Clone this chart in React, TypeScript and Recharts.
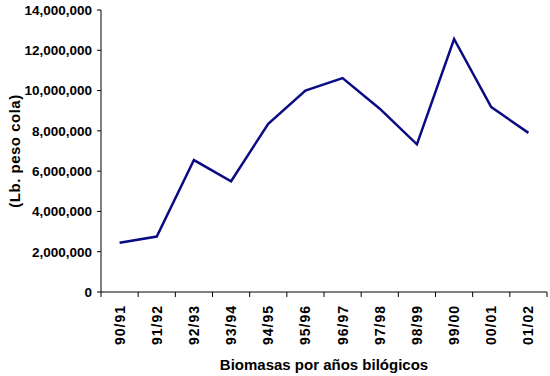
import React from 'react';
import { LineChart, Line, XAxis, YAxis, Label } from 'recharts';

const categories = ['90/91', '91/92', '92/93', '93/94', '94/95', '95/96', '96/97', '97/98', '98/99', '99/00', '00/01', '01/02'];
const biomass = [2450000, 2750000, 6550000, 5500000, 8350000, 10000000, 10620000, 9100000, 7330000, 12560000, 9180000, 7900000];
const yTicks = [0, 2000000, 4000000, 6000000, 8000000, 10000000, 12000000, 14000000];

const data = categories.map((c, i) => ({ idx: i, name: c, value: biomass[i] }));
const xTicks: number[] = [];
for (let i = 0; i <= categories.length * 2; i++) xTicks.push(i / 2 - 0.5);

const FONT = '"Liberation Sans", Arial, sans-serif';

const XTick = (props: any) => {
  const { x, y, payload } = props;
  const v = payload.value;
  if (Number.isInteger(v)) {
    return (
      <text
        x={0}
        y={0}
        transform={`translate(${x},${y + 8}) rotate(-90)`}
        textAnchor="end"
        dominantBaseline="central"
        fontFamily={FONT}
        fontWeight="bold"
        fontSize={14}
        letterSpacing={1}
        fill="#000"
      >
        {categories[v]}
      </text>
    );
  }
  return <line x1={x} x2={x} y1={y - 5} y2={y} stroke="#000" strokeWidth={1} />;
};

const YTitle = (props: any) => {
  const { viewBox } = props;
  const cx = viewBox.x + 13;
  const cy = viewBox.y + viewBox.height / 2;
  return (
    <text
      x={0}
      y={0}
      transform={`translate(${cx},${cy}) rotate(-90)`}
      textAnchor="middle"
      dominantBaseline="central"
      fontFamily={FONT}
      fontWeight="bold"
      fontSize={15}
      letterSpacing={0.5}
      fill="#000"
    >
      (Lb. peso cola)
    </text>
  );
};

export default function App() {
  return (
    <div style={{ position: 'absolute', left: 0, top: 0, background: '#fff' }}>
      <LineChart width={550} height={376} data={data} margin={{ top: 10, right: 3, left: 1, bottom: 0 }}>
        <XAxis
          dataKey="idx"
          type="number"
          domain={[-0.5, 11.5]}
          ticks={xTicks}
          interval={0}
          tick={<XTick />}
          tickLine={false}
          tickSize={5}
          tickMargin={0}
          height={84}
          axisLine={{ stroke: '#000', strokeWidth: 1 }}
        >
          <Label
            value="Biomasas por años bilógicos"
            position="insideBottom"
            offset={6}
            style={{ fontFamily: FONT, fontWeight: 'bold', fontSize: 15, fill: '#000' }}
          />
        </XAxis>
        <YAxis
          type="number"
          domain={[0, 14000000]}
          ticks={yTicks}
          interval={0}
          width={100}
          tickSize={4}
          tickMargin={5}
          tickFormatter={(v: number) => v.toLocaleString('en-US')}
          tick={{ fontFamily: FONT, fontWeight: 'bold', fontSize: 13.5, fill: '#000' }}
          tickLine={{ stroke: '#000' }}
          axisLine={{ stroke: '#000', strokeWidth: 1 }}
        >
          <Label content={<YTitle />} />
        </YAxis>
        <Line
          type="linear"
          dataKey="value"
          stroke="#0b0b84"
          strokeWidth={2.5}
          dot={false}
          isAnimationActive={false}
        />
      </LineChart>
    </div>
  );
}
